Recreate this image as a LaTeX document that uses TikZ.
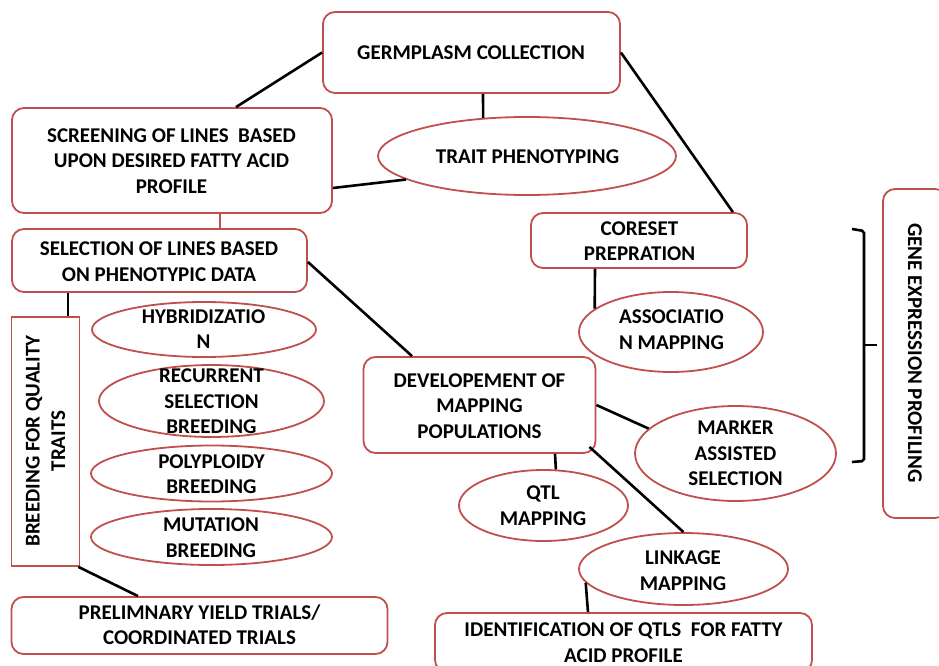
\documentclass[tikz,border=0pt]{standalone}
\usepackage{fontspec}
\setmainfont{Carlito}
\usetikzlibrary{shapes.geometric}
\definecolor{bred}{HTML}{C0504D}
\tikzset{
  rbox/.style={draw=bred, line width=1.8pt, rounded corners=12pt, fill=white, inner sep=0pt},
  sbox/.style={draw=bred, line width=1.8pt, fill=white, inner sep=0pt},
  ell/.style={draw=bred, line width=1.8pt, ellipse, fill=white, inner sep=0pt},
  txt/.style={font=\bfseries\fontsize{21}{25.5}\selectfont, align=center, inner sep=0pt},
  conn/.style={draw=black, line width=2.6pt},
}
\begin{document}
\begin{tikzpicture}[x=1pt,y=-1pt]
\useasboundingbox (0,0) rectangle (939,666);
% boxes
\node[rbox, minimum width=297pt, minimum height=81pt] (germ) at (471.5,52.5) {};
\node[rbox, minimum width=320pt, minimum height=105pt] (screen) at (172,160.5) {};
\node[ell, minimum width=298pt, minimum height=78pt] (trait) at (527,156) {};
\node[rbox, minimum width=216pt, minimum height=55pt] (coreset) at (639,240.5) {};
\node[ell, minimum width=184pt, minimum height=80pt] (assoc) at (671,332) {};
\node[rbox, minimum width=295pt, minimum height=63pt] (select) at (159.5,260.5) {};
\node[sbox, minimum width=68pt, minimum height=249pt] (breed) at (45.5,441.5) {};
\node[ell, minimum width=224pt, minimum height=55pt] (hyb) at (204,329.5) {};
\node[ell, minimum width=225pt, minimum height=72pt] (recur) at (211.5,401) {};
\node[ell, minimum width=241pt, minimum height=56pt] (poly) at (211.5,473.5) {};
\node[ell, minimum width=241pt, minimum height=56pt] (mut) at (211.5,537) {};
\node[rbox, minimum width=376pt, minimum height=57pt] (prelim) at (199.5,625.5) {};
\node[rbox, minimum width=232pt, minimum height=96pt] (devel) at (479.5,405) {};
\node[ell, minimum width=201pt, minimum height=95pt] (mas) at (735.5,453.5) {};
\node[ell, minimum width=169pt, minimum height=71pt] (qtl) at (543.5,505.5) {};
\node[ell, minimum width=209pt, minimum height=72pt] (link) at (683.5,569) {};
\node[rbox, minimum width=377pt, minimum height=59pt] (ident) at (623.5,642.5) {};
\node[rbox, minimum width=64pt, minimum height=329pt] (gene) at (915,353.5) {};
% texts
\node[txt] (tgerm) at (471,53) {GERMPLASM COLLECTION};
\node[txt] (tscreen) at (171.5,161) {SCREENING OF LINES\ \ BASED\\UPON DESIRED FATTY ACID\\PROFILE};
\node[txt] (ttrait) at (527.5,157) {TRAIT PHENOTYPING};
\node[txt] (tcore) at (639.5,241) {CORESET\\PREPRATION};
\node[txt] (tassoc) at (671.5,329.5) {ASSOCIATIO\\N MAPPING};
\node[txt] (tselect) at (159,261.5) {SELECTION OF LINES BASED\\ON PHENOTYPIC DATA};
\node[txt, rotate=90] (tbreed) at (45.5,441) {BREEDING FOR QUALITY\\TRAITS};
\node[txt] (thyb) at (203.5,329) {HYBRIDIZATIO\\N};
\node[txt] (trecur) at (211.5,401.5) {RECURRENT\\SELECTION\\BREEDING};
\node[txt] (tpoly) at (211.5,474) {POLYPLOIDY\\BREEDING};
\node[txt] (tmut) at (211,537.5) {MUTATION\\BREEDING};
\node[txt] (tprelim) at (199.5,624.5) {PRELIMNARY YIELD TRIALS/\\COORDINATED TRIALS};
\node[txt] (tdevel) at (479.5,406) {DEVELOPEMENT OF\\MAPPING\\POPULATIONS};
\node[txt] (tmas) at (735.5,453.5) {MARKER\\ASSISTED\\SELECTION};
\node[txt] (tqtl) at (543,505.5) {QTL\\MAPPING};
\node[txt] (tlink) at (683,570.5) {LINKAGE\\MAPPING};
\node[txt] (tident) at (623.5,642.5) {IDENTIFICATION OF QTLS\ \ FOR FATTY\\ACID PROFILE};
\node[txt, rotate=-90] (tgene) at (915,353) {GENE EXPRESSION PROFILING};
% connectors
\draw[conn] (germ.west) -- ([xshift=64pt]screen.north);
\draw[conn] ([xshift=11.5pt]germ.south) -- (trait.139.7);
\draw[conn] ([yshift=-27.5pt]screen.east) -- (trait.191);
\draw[conn] (germ.east) -- ([xshift=-15pt]coreset.north east);
\draw[conn] ([xshift=-44pt]coreset.south) -- (assoc.163.5);
\draw[draw=bred, line width=2pt] ([xshift=48pt]screen.south) -- ([xshift=48pt]screen.south |- select.north);
\draw[conn] ([yshift=-1.5pt]select.east) -- ([xshift=-67.5pt]devel.north);
\draw[conn] ([xshift=22.5pt]breed.north |- select.south) -- ([xshift=22.5pt]breed.north);
\draw[conn] ([xshift=-2pt]breed.south east) -- ([xshift=-61.5pt]prelim.north);
\draw[conn] (devel.east) -- (mas.164.5);
\draw[conn] ([xshift=75.5pt]devel.south) -- (qtl.71.9);
\draw[conn] ([xshift=-7pt,yshift=7pt]devel.south east) -- (link.north);
\draw[conn] (link.188.7) -- ([xshift=-35.5pt]ident.north);
% bracket
\coordinate (b1) at (852,229);
\coordinate (b2) at (864,231);
\coordinate (bm) at (864,345);
\coordinate (bt) at (877,345);
\coordinate (b3) at (864,461);
\coordinate (b4) at (852,462);
\draw[conn, rounded corners=2pt] (b1) -- (b2) -- (b3) -- (b4);
\draw[conn] (bm) -- (bt);
\end{tikzpicture}
\end{document}
